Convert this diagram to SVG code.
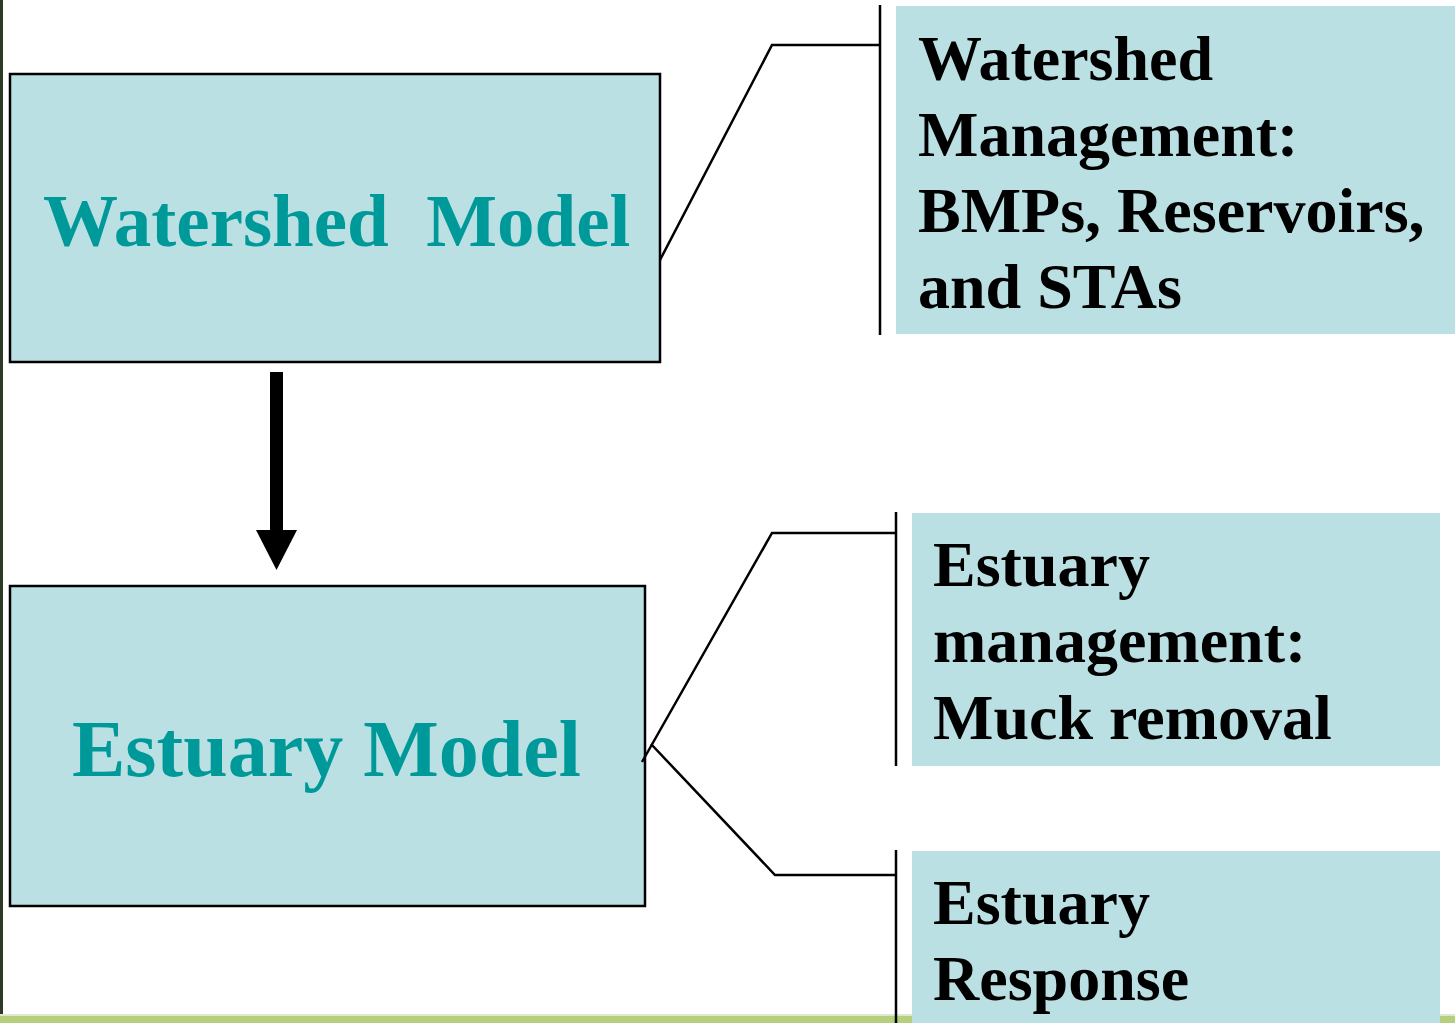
<svg xmlns="http://www.w3.org/2000/svg" width="1455" height="1023" viewBox="0 0 1455 1023">
<style>
.box{fill:#bbe0e3;stroke:#000;stroke-width:2.5}
.pane{fill:#bbe0e3}
.conn{fill:none;stroke:#000;stroke-width:2.5}
.bar{stroke:#000;stroke-width:2.5}
.big{font-family:"Liberation Serif","Times New Roman",serif;font-weight:bold;fill:#009999;white-space:pre}
.lbl{font-family:"Liberation Serif","Times New Roman",serif;font-weight:bold;font-size:64px;fill:#000}
</style>
<rect x="0" y="0" width="1455" height="1023" fill="#fff"/>
<rect x="0" y="0" width="3" height="1023" fill="#2c3a26"/>
<rect x="0" y="1014" width="1455" height="2" fill="#dfe8cf"/>
<rect x="0" y="1016" width="1455" height="7" fill="#b5cf7c"/>
<g id="watershed-model">
<rect class="box" x="10" y="74" width="650" height="288"/>
<text class="big" x="43" y="246" font-size="75" xml:space="preserve">Watershed  Model</text>
</g>
<g id="estuary-model">
<rect class="box" x="10" y="586" width="635" height="320"/>
<text class="big" x="72" y="776" font-size="80">Estuary Model</text>
</g>
<g id="watershed-management">
<rect class="pane" x="896" y="6" width="559" height="328"/>
<text class="lbl" x="918"><tspan x="918" y="80">Watershed</tspan><tspan x="918" y="156">Management:</tspan><tspan x="918" y="232">BMPs, Reservoirs,</tspan><tspan x="918" y="308">and STAs</tspan></text>
</g>
<g id="estuary-management">
<rect class="pane" x="912" y="513" width="528" height="253"/>
<text class="lbl" x="933"><tspan x="933" y="586">Estuary</tspan><tspan x="933" y="662">management:</tspan><tspan x="933" y="739">Muck removal</tspan></text>
</g>
<g id="estuary-response">
<rect class="pane" x="912" y="851" width="528" height="172"/>
<text class="lbl" x="933"><tspan x="933" y="924">Estuary</tspan><tspan x="933" y="1000">Response</tspan></text>
</g>
<g id="connectors">
<polyline class="conn" points="660,260 772,45 880,45"/>
<line class="bar" x1="880" y1="5" x2="880" y2="335"/>
<polyline class="conn" points="642,762 772,533 896,533"/>
<line class="bar" x1="896" y1="512" x2="896" y2="766"/>
<polyline class="conn" points="651,744 775,875 896,875"/>
<line class="bar" x1="896" y1="850" x2="896" y2="1023"/>
<rect x="270" y="372" width="13" height="160" fill="#000"/>
<polygon points="256,530 297,530 276.5,570" fill="#000"/>
</g>
</svg>
